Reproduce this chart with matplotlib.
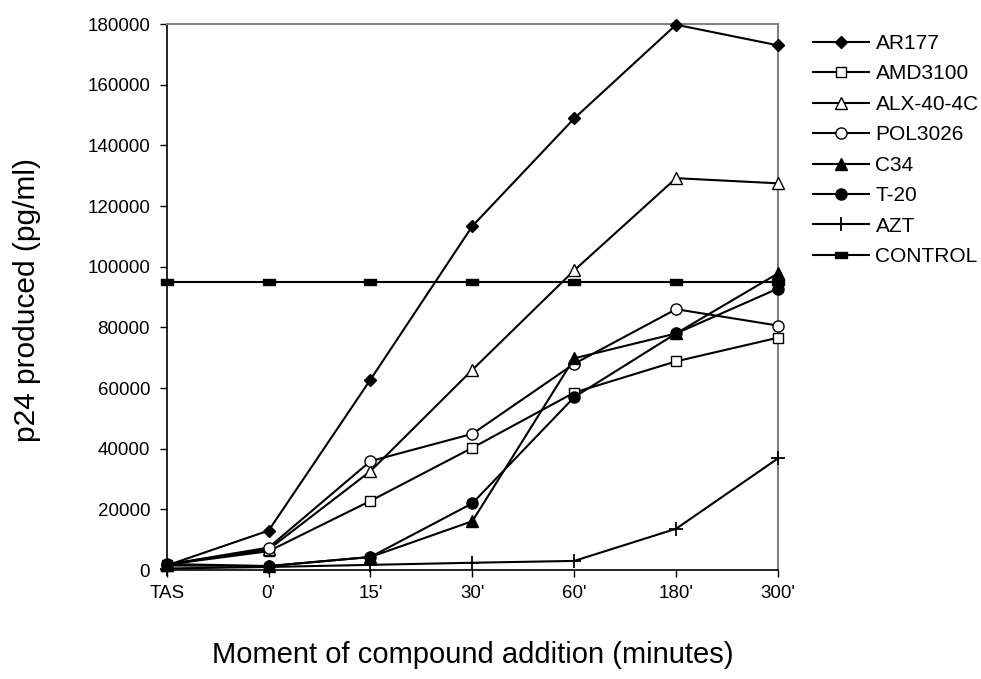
'''
p24 production vs moment of compound addition.
'''
import numpy as np
import matplotlib
matplotlib.use('Agg')
import matplotlib.pyplot as plt

plt.rcParams['font.family'] = ['Liberation Sans', 'DejaVu Sans']

##############################################################################

times = ['TAS', "0'", "15'", "30'", "60'", "180'", "300'"]

ar177    = [1500, 13000, 62800, 113400, 148900, 179800, 173000]
amd3100  = [1800, 6200, 22800, 40300, 58500, 68800, 76600]
alx404c  = [1800, 6800, 32600, 66000, 98800, 129200, 127500]
pol3026  = [1800, 7400, 35900, 44900, 68000, 86000, 80600]
c34      = [1500, 1300, 4300, 16100, 69800, 78000, 97800]
t20      = [2000, 1300, 4300, 22000, 57000, 78000, 92800]
azt      = [500, 1000, 1700, 2400, 3000, 13600, 36800]
control  = [95000, 95000, 95000, 95000, 95000, 95000, 95000]

names = ['AR177', 'AMD3100', 'ALX-40-4C', 'POL3026', 'C34', 'T-20', 'AZT',
         'CONTROL']

##############################################################################

rect = [(-2, -1), (2, -1), (2, 1), (-2, 1), (-2, -1)]
styles = [
    dict(marker='D', markersize=6.5, mfc='k'),
    dict(marker='s', markersize=7.5, mfc='w'),
    dict(marker='^', markersize=8, mfc='w'),
    dict(marker='o', markersize=8, mfc='w'),
    dict(marker='^', markersize=8, mfc='k'),
    dict(marker='o', markersize=8, mfc='k'),
    dict(marker='+', markersize=10, mew=1.3),
    dict(marker=rect, markersize=8, mfc='k'),
]
series = [ar177, amd3100, alx404c, pol3026, c34, t20, azt, control]

fig = plt.figure(figsize=(9.81, 6.79), dpi=100)
ax = fig.add_axes([0.170, 0.1605, 0.623, 0.804])

x = np.arange(len(times))
for vals, name, st in zip(series, names, styles):
    ax.plot(x, vals, color='k', linewidth=1.5, mec='k', label=name,
            clip_on=False, zorder=3, **st)

ax.set_xlim(0, len(times) - 1)
ax.set_ylim(0, 180000)
ax.set_yticks(np.arange(0, 180001, 20000))
ax.set_xticks(x)
ax.set_xticklabels(times)
ax.tick_params(axis='both', direction='out', length=5, width=1,
               labelsize=13.5)
ax.tick_params(axis='y', pad=7)
ax.tick_params(axis='x', pad=6)

for s in ['top', 'right']:
    ax.spines[s].set_color('#808080')
    ax.spines[s].set_linewidth(1.5)
for s in ['left', 'bottom']:
    ax.spines[s].set_color('k')
    ax.spines[s].set_linewidth(1.2)

ax.set_ylabel('p24 produced (pg/ml)', fontsize=21.5)
ax.yaxis.set_label_coords(-0.205, 0.495)
ax.set_xlabel('Moment of compound addition (minutes)', fontsize=21,
              labelpad=28)

leg = fig.legend(loc='upper left', bbox_to_anchor=(813 / 981., 1 - 34 / 679.),
                 frameon=False, fontsize=15, handlelength=2.7,
                 handletextpad=0.3, labelspacing=0.55, borderpad=0,
                 borderaxespad=0)

fig.savefig('out.png', dpi=100)
